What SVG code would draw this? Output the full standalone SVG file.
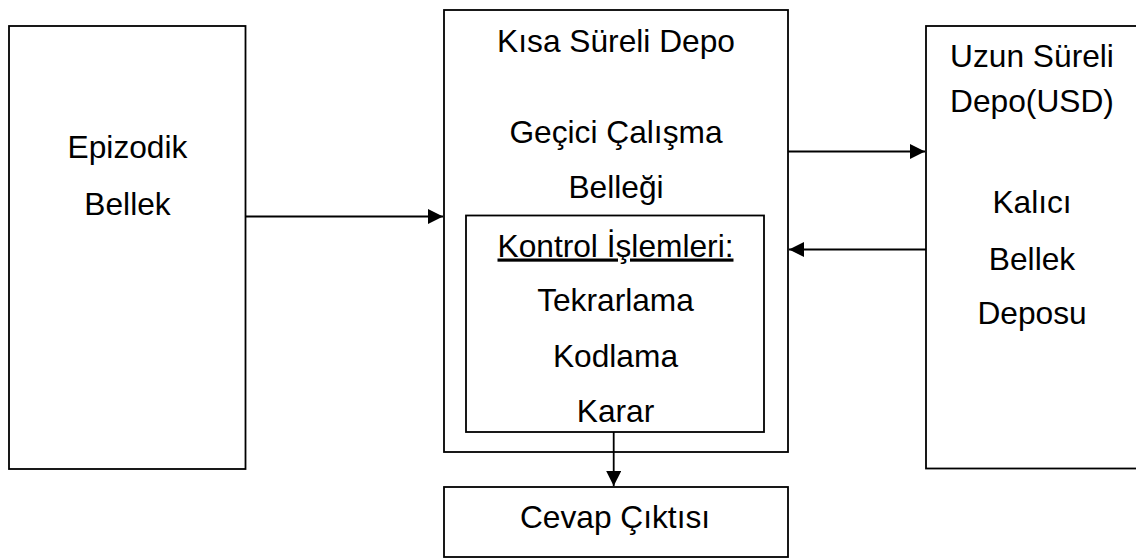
<svg xmlns="http://www.w3.org/2000/svg" width="1136" height="559" viewBox="0 0 1136 559">
  <style>
    .box { fill: #ffffff; stroke: #000000; stroke-width: 1.8; }
    .lbl { font-family: "Liberation Sans", Arial, sans-serif; font-size: 31.7px; fill: #000000; text-anchor: middle; }
    .conn { stroke: #000000; stroke-width: 1.8; fill: none; marker-end: url(#arrow); }
  </style>
  <defs>
    <marker id="arrow" markerUnits="userSpaceOnUse" markerWidth="16" markerHeight="15" refX="15" refY="7.5" orient="auto">
      <path d="M0,0 L15,7.5 L0,15 Z" fill="#000000"/>
    </marker>
  </defs>
  <rect width="1136" height="559" fill="#ffffff"/>

  <!-- Episodic memory -->
  <g id="epizodik">
    <rect class="box" x="9" y="26" width="236.5" height="443"/>
    <text class="lbl" x="127.5" y="158">Epizodik</text>
    <text class="lbl" x="127.5" y="215">Bellek</text>
  </g>

  <!-- Short-term store with working memory -->
  <g id="kisa-sureli">
    <rect class="box" x="444" y="10" width="344" height="442"/>
    <text class="lbl" x="616" y="52">Kısa Süreli Depo</text>
    <text class="lbl" x="616" y="143">Geçici Çalışma</text>
    <text class="lbl" x="616" y="198">Belleği</text>
  </g>

  <!-- Control processes -->
  <g id="kontrol">
    <rect class="box" x="466" y="215.5" width="298" height="216.5"/>
    <text class="lbl" x="615.5" y="256.5" text-decoration="underline">Kontrol İşlemleri:</text>
    <text class="lbl" x="615.5" y="311">Tekrarlama</text>
    <text class="lbl" x="615.5" y="366.5">Kodlama</text>
    <text class="lbl" x="615.5" y="421.5">Karar</text>
  </g>

  <!-- Long-term store -->
  <g id="uzun-sureli">
    <rect class="box" x="926" y="26" width="230" height="442.5"/>
    <text class="lbl" x="1032" y="66.5">Uzun Süreli</text>
    <text class="lbl" x="1032" y="111.5">Depo(USD)</text>
    <text class="lbl" x="1032" y="213">Kalıcı</text>
    <text class="lbl" x="1032" y="269.5">Bellek</text>
    <text class="lbl" x="1032" y="324">Deposu</text>
  </g>

  <!-- Response output -->
  <g id="cevap">
    <rect class="box" x="444" y="487" width="344" height="70"/>
    <text class="lbl" x="615" y="528">Cevap Çıktısı</text>
  </g>

  <!-- Connectors -->
  <g id="connectors">
    <line class="conn" x1="245.5" y1="216.5" x2="443" y2="216.5"/>
    <line class="conn" x1="788" y1="151.5" x2="925" y2="151.5"/>
    <line class="conn" x1="926" y1="249.5" x2="789" y2="249.5"/>
    <line class="conn" x1="613.7" y1="432" x2="613.7" y2="486"/>
  </g>
</svg>
